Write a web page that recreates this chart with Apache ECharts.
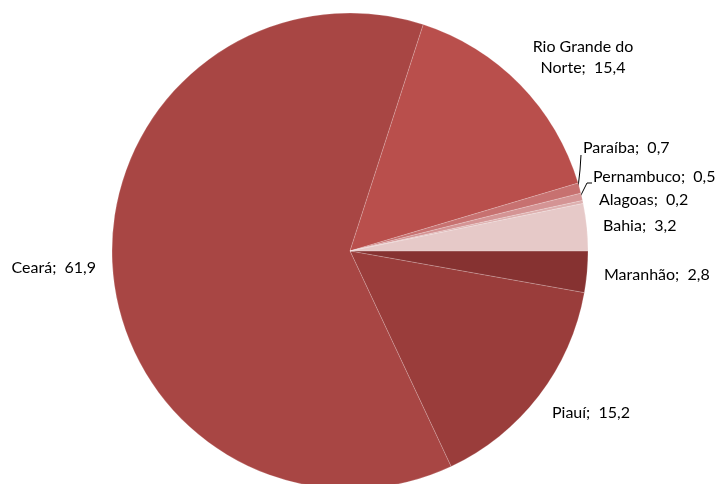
<!DOCTYPE html>
<html>
<head>
<meta charset="utf-8">
<script src="https://cdn.jsdelivr.net/npm/echarts@6/dist/echarts.min.js"></script>
<style>
  html, body { margin: 0; padding: 0; background: #fff; }
  #chart { width: 719px; height: 484px; }
</style>
</head>
<body>
<div id="chart"></div>
<script>
// states in Excel series order (starts at 3 o'clock, clockwise)
const states = ["Maranhão", "Piauí", "Ceará", "Rio Grande do Norte", "Paraíba", "Pernambuco", "Alagoas", "Bahia"];
const shares = [2.8, 15.2, 61.9, 15.4, 0.7, 0.5, 0.2, 3.2];
const labelTexts = ["Maranhão;  2,8", "Piauí;  15,2", "Ceará;  61,9", "Rio Grande do\nNorte;  15,4",
  "Paraíba;  0,7", "Pernambuco;  0,5", "Alagoas;  0,2", "Bahia;  3,2"];
const colors = ["#863231", "#9a3d3b", "#a84644", "#b94f4c", "#c77170", "#d49494", "#ddb0af", "#e6c9c8"];

// where Excel put each label: [x, y, align]
const labelSpots = [
  [604, 275, "left"], [552, 413, "left"], [96, 268, "right"], [583, 57, "center"],
  [583, 148, "left"], [593, 177, "left"], [599, 200, "left"], [603, 226, "left"]
];
// leader lines for the tiny slices
const leaders = {
  4: [[578, 188], [580, 170], [581, 155]],
  5: [[580, 197], [587, 183], [592, 183]]
};

const chart = echarts.init(document.getElementById("chart"));

chart.setOption({
  animation: false,
  series: [{
    type: "pie",
    center: [350, 251],
    radius: 238,
    startAngle: 0,
    clockwise: true,
    avoidLabelOverlap: false,
    itemStyle: { borderColor: "rgba(255,255,255,0.35)", borderWidth: 0.5 },
    label: {
      show: true,
      position: "outside",
      fontFamily: "Lato",
      fontSize: 16,
      color: "#000",
      lineHeight: 21,
      formatter: p => labelTexts[p.dataIndex]
    },
    labelLine: { show: false, lineStyle: { color: "#000", width: 1 } },
    labelLayout: p => {
      const s = labelSpots[p.dataIndex];
      const out = { x: s[0], y: s[1], align: s[2], verticalAlign: "middle" };
      if (leaders[p.dataIndex]) out.labelLinePoints = leaders[p.dataIndex];
      return out;
    },
    data: states.map((name, i) => ({
      name: name,
      value: shares[i],
      itemStyle: { color: colors[i] },
      labelLine: { show: !!leaders[i] }
    }))
  }]
});
</script>
</body>
</html>
